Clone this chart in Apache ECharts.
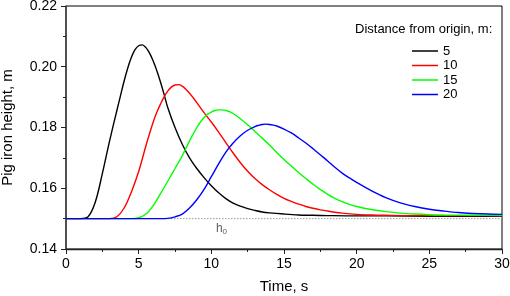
<!DOCTYPE html>
<html>
<head>
<meta charset="utf-8">
<script src="https://cdn.jsdelivr.net/npm/echarts@6/dist/echarts.min.js"></script>
<style>html,body{margin:0;padding:0;background:#fff;}#c{width:510px;height:296px;}</style>
</head>
<body>
<div id="c"></div>
<script>
// Distance 5 m (black)
var t5 = [0,1,1.5,2,2.5,3,3.5,3.75,4,4.25,4.5,4.75,5,5.25,5.5,5.75,6,6.25,6.5,6.75,7,7.5,8,8.5,9,9.5,10,10.5,11,11.5,12,12.5,13,13.5,14,15,16,17,18,20,22,25,30];
var d5 = [0.15,0.15,0.1505,0.1552,0.1648,0.1756,0.1856,0.1905,0.1953,0.1996,0.2031,0.2056,0.2069,0.2072,0.2063,0.2045,0.2019,0.1987,0.1950,0.1909,0.1866,0.1800,0.1745,0.1700,0.1665,0.1635,0.1608,0.1585,0.1566,0.1551,0.1541,0.1533,0.1527,0.1522,0.1519,0.1515,0.1512,0.1511,0.1510,0.1509,0.1509,0.1508,0.1508];
// Distance 10 m (red)
var t10 = [0,3,3.5,4,4.5,5,5.5,6,6.25,6.5,6.75,7,7.25,7.5,7.75,8,8.25,8.5,8.75,9,9.5,10,10.5,11,11.5,12,12.5,13,13.5,14,14.5,15,15.5,16,16.5,17,17.5,18,18.5,19,20,21,22,24,30];
var d10 = [0.15,0.15,0.1506,0.1535,0.1588,0.1655,0.1740,0.1818,0.1850,0.1877,0.1901,0.1920,0.1933,0.1940,0.1941,0.1936,0.1926,0.1913,0.1898,0.1882,0.1849,0.1818,0.1785,0.1750,0.1716,0.1684,0.1656,0.1632,0.1612,0.1595,0.1580,0.1567,0.1557,0.1548,0.1540,0.1534,0.1529,0.1525,0.1521,0.1518,0.1514,0.1512,0.1511,0.1510,0.1510];
// Distance 15 m (green)
var t15 = [0,4.5,5,5.5,6,6.5,7,7.5,8,8.5,9,9.25,9.5,9.75,10,10.25,10.5,10.75,11,11.25,11.5,12,12.5,13,13.5,14,14.5,15,15.5,16,16.5,17,17.5,18,18.5,19,19.5,20,21,22,23,24,25,26,28,30];
var d15 = [0.15,0.15,0.1503,0.1515,0.1543,0.1582,0.1623,0.1665,0.1707,0.1756,0.1800,0.1818,0.1833,0.1844,0.1851,0.1856,0.1858,0.1858,0.1856,0.1852,0.1846,0.1829,0.1809,0.1787,0.1765,0.1742,0.1718,0.1695,0.1673,0.1652,0.1632,0.1613,0.1596,0.1580,0.1567,0.1556,0.1547,0.1540,0.1530,0.1523,0.1518,0.1515,0.1513,0.1512,0.1511,0.1510];
// Distance 20 m (blue)
var t20 = [0,6.5,7,7.5,8,8.5,9,9.5,10,10.5,11,11.5,12,12.5,13,13.25,13.5,13.75,14,14.25,14.5,15,15.5,16,16.5,17,17.5,18,18.5,19,19.5,20,21,22,23,24,25,26,27,28,29,30];
var d20 = [0.15,0.15,0.1501,0.1506,0.1515,0.1535,0.1562,0.1596,0.1638,0.1680,0.1719,0.1749,0.1773,0.1791,0.1803,0.1807,0.1810,0.1811,0.1810,0.1808,0.1805,0.1795,0.1782,0.1766,0.1749,0.1730,0.1710,0.1690,0.1669,0.1650,0.1634,0.1619,0.1592,0.1569,0.1552,0.1540,0.1531,0.1525,0.1520,0.1517,0.1515,0.1514];
var seriesNames = ['5','10','15','20'];
var seriesColors = ['#000000','#ff0000','#00ff00','#0000ff'];
var h0 = 0.15;
var xTicks = [0,5,10,15,20,25,30];
var yTicks = [0.14,0.16,0.18,0.20,0.22];

var font = "'Liberation Sans', Arial, sans-serif";
function pairs(ts, arr){ return ts.map(function(t,i){ return [t, arr[i]]; }); }
var allT = [t5,t10,t15,t20];
var allData = [d5,d10,d15,d20];
var series = [{
  name: 'h0line', type: 'line', data: [[xTicks[0], h0],[xTicks[xTicks.length-1], h0]],
  symbol: 'none', silent: true, z: 1,
  lineStyle: {color: '#999', width: 1, type: [1.5,1.5]}
}, {
  name: 'h0label', type: 'scatter', data: [[10.7, 0.1467]], symbolSize: 0, silent: true,
  label: {show: true, position: 'inside', formatter: '{a|h}{b|0}',
    rich: {a: {fontSize: 12, fontFamily: font, color: '#333'}, b: {fontSize: 8, fontFamily: font, color: '#333', padding: [6,0,0,0]}}}
}];
allData.forEach(function(arr, i){
  series.push({
    name: seriesNames[i], type: 'line', data: pairs(allT[i], arr), symbol: 'none', smooth: 0.35, z: 3 + i,
    lineStyle: {color: seriesColors[i], width: 1.4}, itemStyle: {color: seriesColors[i]}
  });
});

var chart = echarts.init(document.getElementById('c'), null, {renderer: 'canvas'});
chart.setOption({
  animation: false,
  backgroundColor: '#fff',
  title: {text: 'Distance from origin, m:', left: 355, top: 23, padding: 0,
    textStyle: {fontSize: 13, fontWeight: 'normal', color: '#000', fontFamily: font}},
  legend: {data: seriesNames, orient: 'vertical', left: 412, top: 44, padding: 0,
    icon: 'rect', itemWidth: 26, itemHeight: 1.5, itemGap: 0.5,
    textStyle: {fontSize: 13, color: '#000', fontFamily: font, lineHeight: 14, padding: [0,0,0,0]}},
  grid: {left: 66, right: 8, top: 6, bottom: 47, containLabel: false, outerBoundsMode: 'none',
    show: true, borderColor: '#000', borderWidth: 1},
  xAxis: {type: 'value', min: xTicks[0], max: xTicks[xTicks.length-1], interval: 5,
    name: 'Time, s', nameLocation: 'middle', nameGap: 30,
    nameTextStyle: {fontSize: 15, color: '#000', fontFamily: font},
    axisLine: {show: true, lineStyle: {color: '#222', width: 1.3}},
    axisTick: {show: true, length: 5, lineStyle: {color: '#222'}},
    minorTick: {show: true, splitNumber: 2, length: 3, lineStyle: {color: '#222'}},
    splitLine: {show: false},
    axisLabel: {fontSize: 14, color: '#000', fontFamily: font, margin: 8}},
  yAxis: {type: 'value', min: yTicks[0], max: yTicks[yTicks.length-1], interval: 0.02,
    name: 'Pig iron height, m', nameLocation: 'middle', nameGap: 51,
    nameTextStyle: {fontSize: 15, color: '#000', fontFamily: font},
    axisLine: {show: true, lineStyle: {color: '#444', width: 1.6}},
    axisTick: {show: true, length: 5, lineStyle: {color: '#222'}},
    minorTick: {show: true, splitNumber: 2, length: 3, lineStyle: {color: '#222'}},
    splitLine: {show: false},
    axisLabel: {fontSize: 14, color: '#000', fontFamily: font, margin: 9,
      formatter: function(v){ return v.toFixed(2); }}},
  series: series
});
</script>
</body>
</html>
